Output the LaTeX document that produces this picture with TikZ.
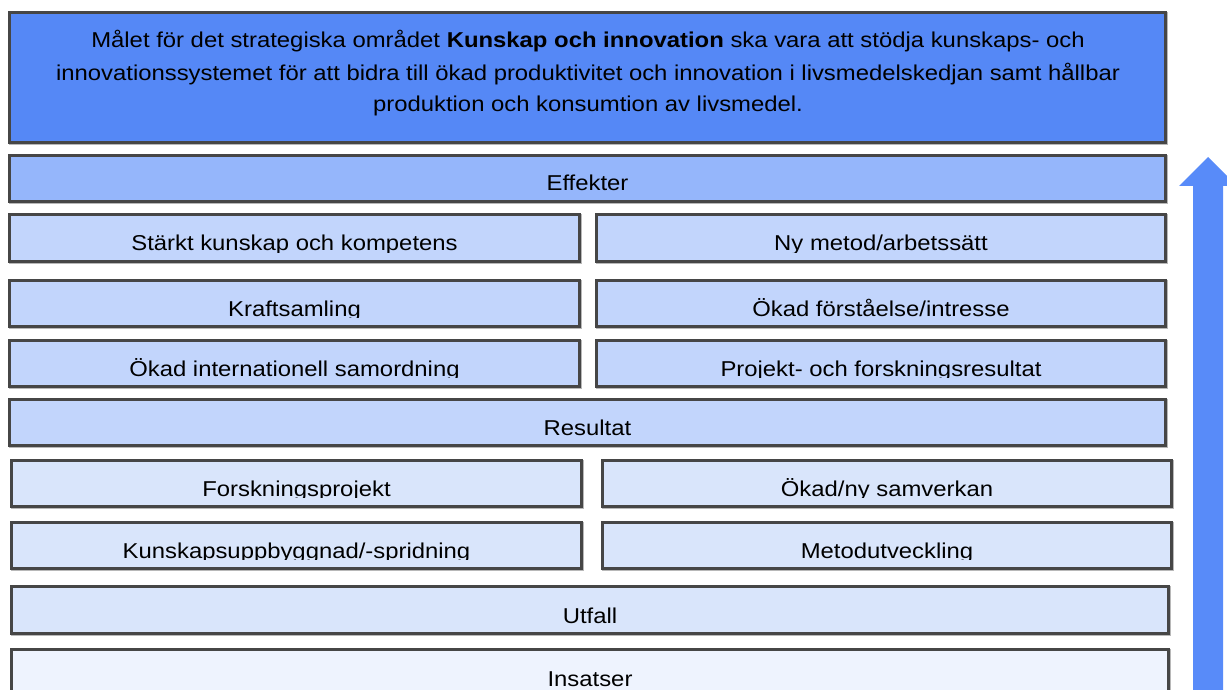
\documentclass[tikz,border=0pt]{standalone}
\usepackage{fontspec}
\setmainfont{Liberation Sans}[FakeStretch=1.11]
\usetikzlibrary{fit,calc}

\definecolor{goalblue}{HTML}{5588F6}
\definecolor{effblue}{HTML}{95B6FB}
\definecolor{midblue}{HTML}{C2D5FC}
\definecolor{lowblue}{HTML}{D9E5FB}
\definecolor{baseblue}{HTML}{EEF3FE}
\definecolor{arrowblue}{HTML}{588BF9}
\definecolor{edgegray}{HTML}{464646}
\definecolor{shadegray}{HTML}{B8B8B8}

\tikzset{
  tier/.style={draw=edgegray, line width=3pt, inner sep=0pt, outer sep=0pt},
  tiershade/.style={draw=shadegray, line width=1pt},
  tierlabel/.style={anchor=base, inner sep=0pt, text=black,
    font=\fontsize{21.5}{26}\selectfont},
  goalline/.style={anchor=base, inner sep=0pt, text=black,
    font=\fontsize{21.5}{26}\selectfont},
}

% #1 name, #2 left, #3 top, #4 right, #5 bottom, #6 fill, #7 label
\newcommand{\tierbox}[7]{%
  \draw[tiershade] (#2+1.5,#3+1.5) rectangle (#4+0.5,#5+0.5);
  \node[tier, fill=#6, fit={(#2+1.5,#3+1.5) (#4-1.5,#5-1.5)}] (#1) {};
  \begin{scope}
    \clip (#2,#5-11) rectangle (#4,#3);
    \node[tierlabel] (#1-label) at ({(#2+#4)/2},#5-12) {#7};
  \end{scope}%
}

\begin{document}
\begin{tikzpicture}[x=1pt, y=-1pt]
  \useasboundingbox (0,0) rectangle (1227,690);
  \clip (0,0) rectangle (1227,690);

  % upward arrow along the right side
  \fill[arrowblue] (1193,700) -- (1193,186) -- (1179,186) -- (1208,157)
    -- (1237,186) -- (1223,186) -- (1223,700) -- cycle;

  % goal box
  \draw[tiershade] (9.5,12.5) rectangle (1167.5,144.5);
  \node[tier, fill=goalblue, fit={(9.5,12.5) (1165.5,142.5)}] (goal) {};
  \node[goalline] (goal-l1) at (588,48)
    {Målet för det strategiska området \textbf{Kunskap och innovation} ska vara att stödja kunskaps- och};
  \node[goalline] (goal-l2) at (588,81)
    {innovationssystemet för att bidra till ökad produktivitet och innovation i livsmedelskedjan samt hållbar};
  \node[goalline] (goal-l3) at (588,112)
    {produktion och konsumtion av livsmedel.};

  % effects
  \tierbox{eff}{8}{154}{1167}{203}{effblue}{Effekter}
  \tierbox{e1}{8}{213}{581}{263}{midblue}{Stärkt kunskap och kompetens}
  \tierbox{e2}{595}{213}{1167}{263}{midblue}{Ny metod/arbetssätt}
  \tierbox{e3}{8}{279}{581}{328}{midblue}{Kraftsamling}
  \tierbox{e4}{595}{279}{1167}{328}{midblue}{Ökad förståelse/intresse}
  \tierbox{e5}{8}{339}{581}{388}{midblue}{Ökad internationell samordning}
  \tierbox{e6}{595}{339}{1167}{388}{midblue}{Projekt- och forskningsresultat}

  % results
  \tierbox{res}{8}{398}{1167}{447}{midblue}{Resultat}
  \tierbox{r1}{10}{459}{583}{508}{lowblue}{Forskningsprojekt}
  \tierbox{r2}{601}{459}{1173}{508}{lowblue}{Ökad/ny samverkan}
  \tierbox{r3}{10}{521}{583}{570}{lowblue}{Kunskapsuppbyggnad/-spridning}
  \tierbox{r4}{601}{521}{1173}{570}{lowblue}{Metodutveckling}

  % outcome and inputs
  \tierbox{out}{10}{585}{1170}{635}{lowblue}{Utfall}
  \tierbox{inp}{10}{648}{1170}{698}{baseblue}{Insatser}
\end{tikzpicture}
\end{document}
